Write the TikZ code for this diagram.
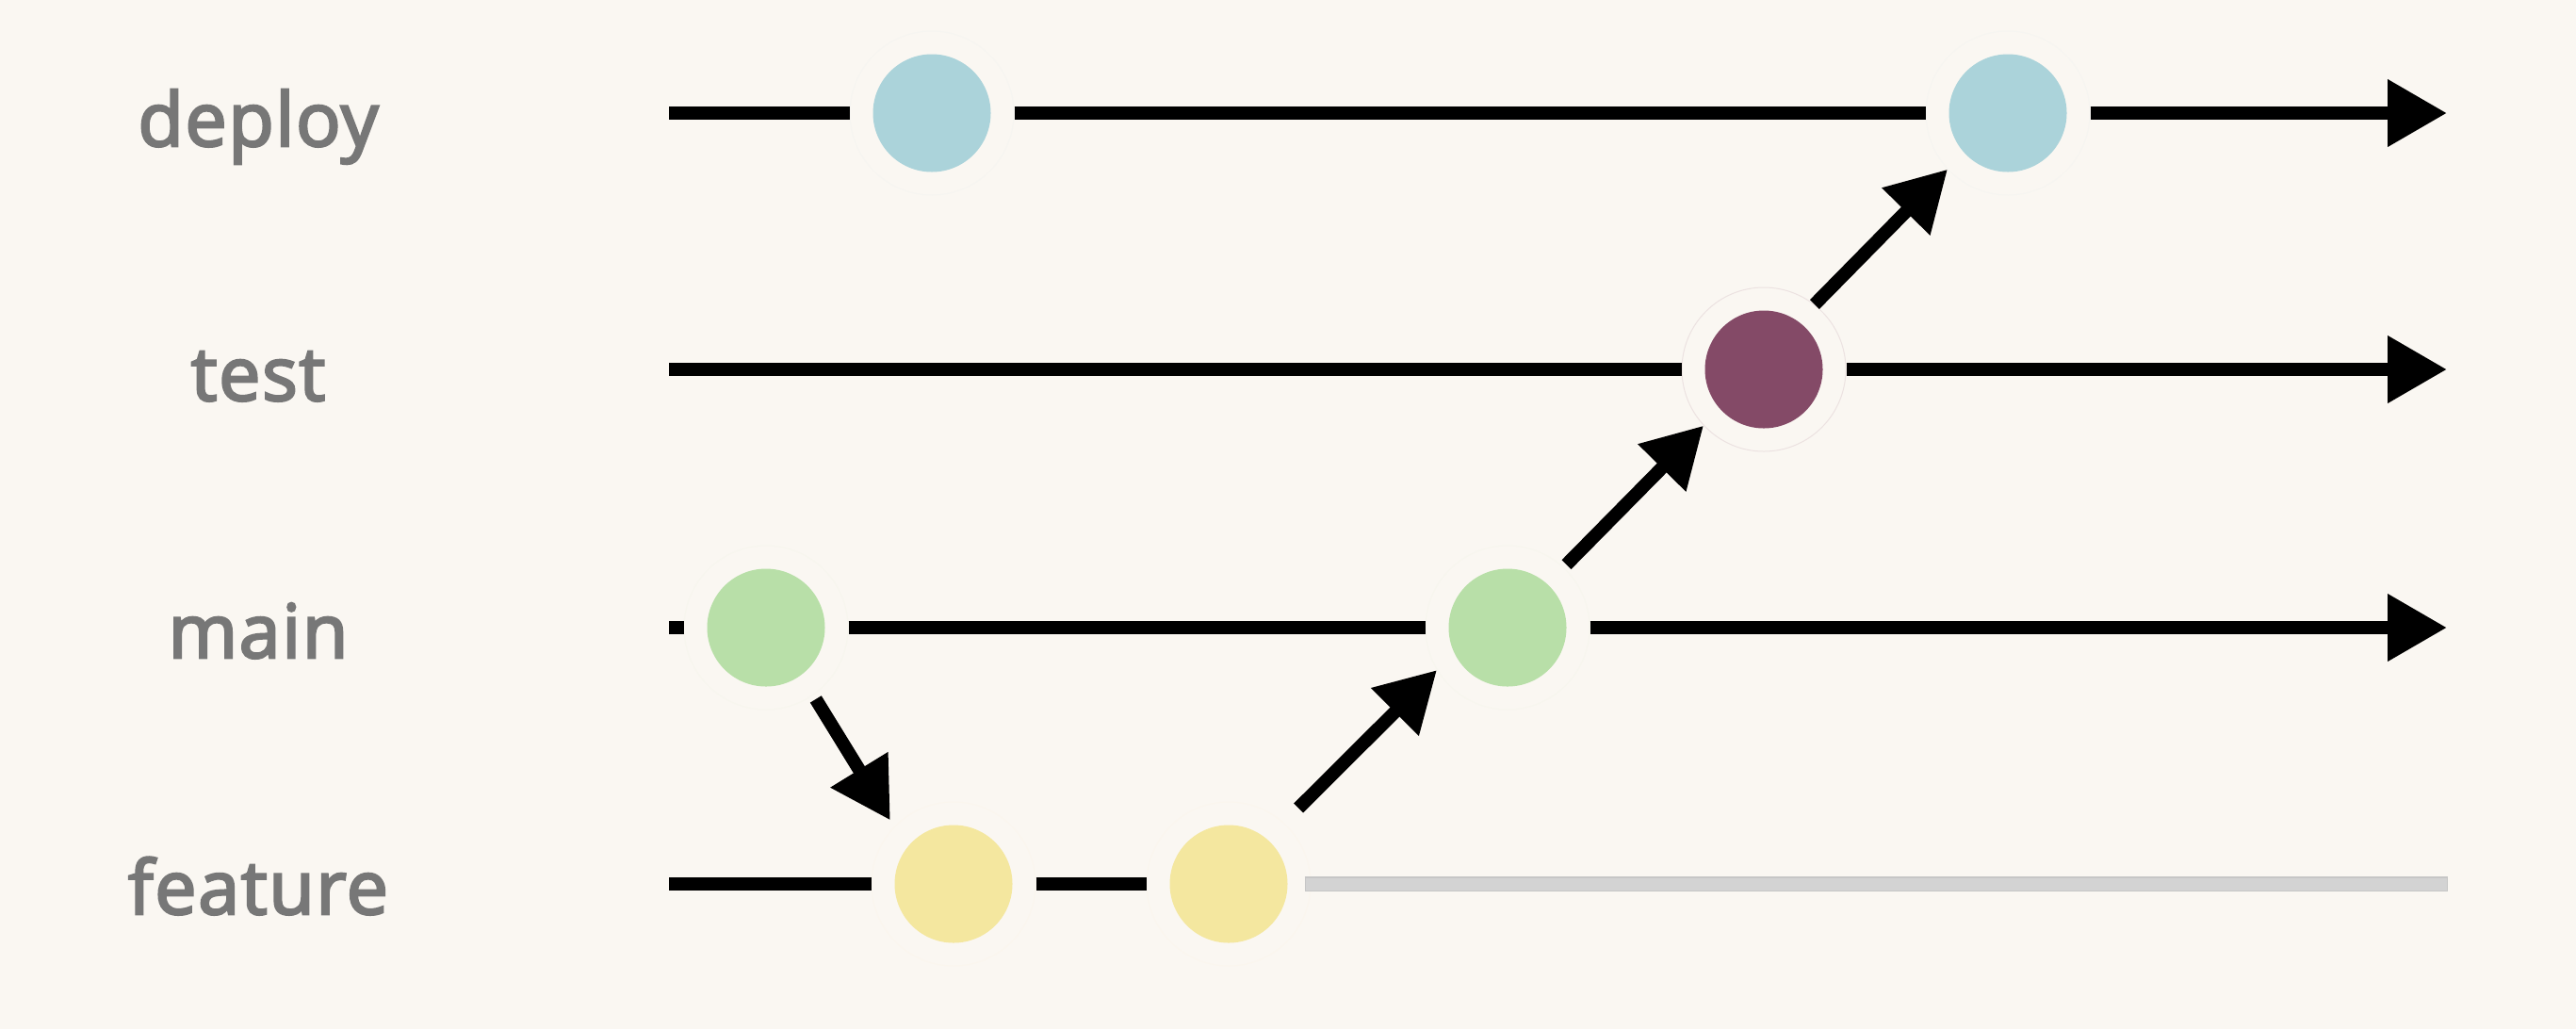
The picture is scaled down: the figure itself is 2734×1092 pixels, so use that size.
\documentclass[tikz,border=0pt]{standalone}
\usepackage{fontspec}
\setmainfont{Open Sans}
\newfontfamily\lblfont{Open Sans}[FakeBold=3.2, LetterSpace=2]
\usetikzlibrary{arrows.meta}
\definecolor{bg}{HTML}{FAF7F2}
\definecolor{lblgray}{HTML}{777777}
\definecolor{cdeploy}{HTML}{ABD3DA}
\definecolor{cmain}{HTML}{B8DFA8}
\definecolor{cfeat}{HTML}{F4E79F}
\definecolor{ctest}{HTML}{844A67}
\definecolor{grayline}{HTML}{D3D3D3}
\definecolor{grayedge}{HTML}{C6C6C6}
\begin{document}
\begin{tikzpicture}[x=0.1mm,y=-0.1mm,
  commit/.style={circle, inner sep=0pt, minimum size=17.4mm, fill=bg,
     draw=#1!5!bg, line width=0.1mm,
     path picture={\fill[#1] (path picture bounding box.center) circle[radius=6.25mm];}},
  lane/.style={line width=1.4mm, black},
  lanearrow/.style={lane, -{Triangle[length=6.3mm,width=6.8mm]}},
  merge/.style={line width=1.4mm, black, -{Triangle[length=6.3mm,width=6.8mm]}},
  lbl/.style={font=\lblfont\fontsize{22.5}{27}\selectfont, text=lblgray, anchor=base, inner sep=0pt}]
\fill[bg] (0,0) rectangle (2734,1092);
\useasboundingbox (0,0) rectangle (2734,1092);

% labels
\node[lbl] (ldeploy) at (274,155) {deploy};
\node[lbl] (ltest) at (274,425) {test};
\node[lbl] (lmain) at (274,698) {main};
\node[lbl] (lfeature) at (274,970) {feature};

% commits
\node[commit=cdeploy] (d1) at (989,120) {};
\node[commit=cdeploy] (d2) at (2131,120) {};
\node[commit=ctest, draw=ctest!12!bg] (t1) at (1872,392) {};
\node[commit=cmain] (m1) at (813,666) {};
\node[commit=cmain] (m2) at (1600,666) {};
\node[commit=cfeat] (f1) at (1012,938) {};
\node[commit=cfeat] (f2) at (1304,938) {};

% lane ends
\coordinate (ds) at (710,120); \coordinate (de) at (2597,120);
\coordinate (ts) at (710,392); \coordinate (te) at (2597,392);
\coordinate (ms) at (710,666); \coordinate (me) at (2597,666);
\coordinate (fs) at (710,938); \coordinate (fe) at (2598,938);

% lanes
\draw[lane] (ds) -- (d1);
\draw[lane] (d1) -- (d2);
\draw[lanearrow] (d2) -- (de);
\draw[lane] (ts) -- (t1);
\draw[lanearrow] (t1) -- (te);
\draw[lane] (ms) -- (m1);
\draw[lane] (m1) -- (m2);
\draw[lanearrow] (m2) -- (me);
\draw[lane] (fs) -- (f1);
\draw[lane] (f1) -- (f2);
\draw[line width=1.6mm, grayedge, shorten <=-0.7mm] (f2) -- (fe);
\draw[line width=1.3mm, grayline, shorten <=-0.6mm, shorten >=0.1mm] (f2) -- (fe);

% merges
\draw[merge, shorten <=0.5mm, shorten >=0.8mm] (m1.-55) -- (f1.136);
\draw[merge, shorten <=2.2mm] (f2.48) -- (m2.211);
\draw[merge, shorten <=0.4mm] (m2.47.6) -- (t1.223.6);
\draw[merge] (t1.52.6) -- (d2.223.6);
\end{tikzpicture}
\end{document}
